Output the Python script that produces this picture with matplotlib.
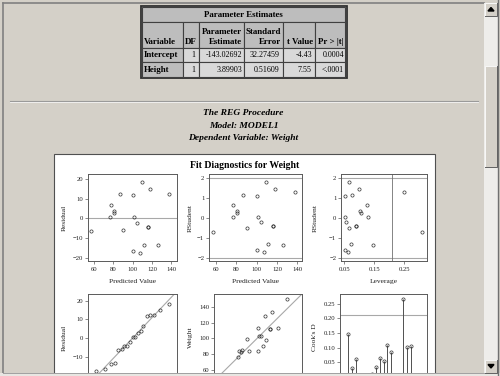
import matplotlib
matplotlib.use('Agg')
import matplotlib.pyplot as plt
from matplotlib.patches import Rectangle, Polygon
from matplotlib.ticker import FormatStrFormatter

SERIF = ['Liberation Serif', 'DejaVu Serif']
plt.rcParams['font.family'] = SERIF

# Parameter Estimates table
table_title = "Parameter Estimates"
param_vars = ["Intercept", "Height"]
param_df = ["1", "1"]
param_est = ["-143.02692", "3.89903"]
param_se = ["32.27459", "0.51609"]
param_t = ["-4.43", "7.55"]
param_p = ["0.0004", "<.0001"]

title_lines = ["The REG Procedure", "Model: MODEL1", "Dependent Variable: Weight"]
panel_title = "Fit Diagnostics for Weight"

# fit diagnostics, one value per observation
obs = list(range(1, 20))
predicted = [126.01, 77.27, 111.58, 101.83, 104.56, 80.39, 90.14, 100.66, 100.66, 87.02,
             56.99, 107.68, 76.49, 116.26, 137.70, 109.63, 118.21, 81.17, 116.26]
residual = [-13.51, 6.73, -13.58, 0.67, -2.06, 2.61, -5.63, 11.84, -16.66, 12.48,
            -6.49, -17.68, 0.51, -4.26, 12.30, 18.37, 14.79, 3.83, -4.26]
rstudent = [-1.33, 0.63, -1.28, 0.06, -0.18, 0.24, -0.51, 1.09, -1.59, 1.17,
            -0.69, -1.72, 0.05, -0.39, 1.29, 1.80, 1.43, 0.35, -0.39]
leverage = [0.1465, 0.1246, 0.0712, 0.0531, 0.0555, 0.1062, 0.0662, 0.0527, 0.0527, 0.0762,
            0.3101, 0.0608, 0.1297, 0.0893, 0.2499, 0.0655, 0.0986, 0.1021, 0.0893]
weight = [112.5, 84.0, 98.0, 102.5, 102.5, 83.0, 84.5, 112.5, 84.0, 99.5,
          50.5, 90.0, 77.0, 112.0, 150.0, 128.0, 133.0, 85.0, 112.0]
cooks_d = [0.1456, 0.0292, 0.0604, 0.0001, 0.0011, 0.0036, 0.0096, 0.0327, 0.0647, 0.0552,
           0.1089, 0.0855, 0.0002, 0.0078, 0.2666, 0.1004, 0.1053, 0.0074, 0.0078]
normal_quantile = [-1.846, -1.376, -1.097, -0.884, -0.705, -0.547, -0.401, -0.264, -0.131, 0.0,
                   0.131, 0.264, 0.401, 0.547, 0.705, 0.884, 1.097, 1.376, 1.846]
root_mse = 11.22625
rstudent_limit = 2
leverage_cut = 0.2105
cooks_cut = 0.2105

PAGE = '#D4D0C8'
W, H = 500, 376

fig = plt.figure(figsize=(5, 3.76), dpi=100)
fig.patch.set_facecolor(PAGE)

# pixel-space overlay for the page decorations
bg = fig.add_axes([0, 0, 1, 1], zorder=-5)
bg.set_xlim(0, W)
bg.set_ylim(H, 0)
bg.axis('off')

# window frame
bg.plot([2.5, 2.5], [2.5, H], color='#808080', lw=1.2)
bg.plot([2.5, 484], [2.5, 2.5], color='#808080', lw=1.2)

# table
col_edges = [142, 183, 198.5, 244, 283, 315, 345]
row_edges = [7, 22, 47.5, 62, 77]
HDR = '#BDBDBD'
CELL = '#D9D9D9'
bg.add_patch(Rectangle((141, 6), 206, 72, facecolor='#F0F0F0', edgecolor='#303030', lw=1.3))
bg.add_patch(Rectangle((col_edges[0], row_edges[0]), col_edges[-1] - col_edges[0],
                       row_edges[1] - row_edges[0], facecolor=HDR, edgecolor='#404040', lw=0.8))
bg.text(243.5, 15, table_title, ha='center', va='center', fontsize=6.4, weight='bold')
for i in range(6):
    bg.add_patch(Rectangle((col_edges[i], row_edges[1]), col_edges[i + 1] - col_edges[i],
                           row_edges[2] - row_edges[1], facecolor=HDR, edgecolor='#404040', lw=0.8))
    for r in range(2):
        fc = HDR if i == 0 else CELL
        bg.add_patch(Rectangle((col_edges[i], row_edges[2 + r]), col_edges[i + 1] - col_edges[i],
                               row_edges[3 + r] - row_edges[2 + r], facecolor=fc,
                               edgecolor='#404040', lw=0.8))
hdr_kw = dict(fontsize=6.4, weight='bold', va='center')
bg.text(144, 42, "Variable", ha='left', **hdr_kw)
bg.text(191, 42, "DF", ha='center', **hdr_kw)
bg.text(242, 31.5, "Parameter", ha='right', **hdr_kw)
bg.text(242, 42, "Estimate", ha='right', **hdr_kw)
bg.text(281, 31.5, "Standard", ha='right', **hdr_kw)
bg.text(281, 42, "Error", ha='right', **hdr_kw)
bg.text(313.5, 42, "t Value", ha='right', **hdr_kw)
bg.text(344, 42, "Pr > |t|", ha='right', **hdr_kw)
cols = [param_df, param_est, param_se, param_t, param_p]
rights = [195, 242, 280, 312, 344]
for r in range(2):
    yc = (row_edges[2 + r] + row_edges[3 + r]) / 2
    bg.text(144, yc, param_vars[r], ha='left', va='center', fontsize=6.4, weight='bold')
    for c, xr in zip(cols, rights):
        bg.text(xr, yc, c[r], ha='right', va='center', fontsize=5.8)

# separator
bg.plot([10, 478], [101, 101], color='#9A9A9A', lw=0.8)
bg.plot([10, 478], [102, 102], color='#F4F4F4', lw=0.6)

for yy, s in zip([113.3, 125.7, 137.7], title_lines):
    bg.text(243.5, yy, s, ha='center', va='center', fontsize=6.8, weight='bold', style='italic')

# graph panel
bg.add_patch(Rectangle((53.5, 154), 381, 240, facecolor='white', edgecolor='#505050', lw=0.8))
bg.text(245, 165.5, panel_title, ha='center', va='center', fontsize=7.0, weight='bold')


def add_ax(x0, y0, x1, y1):
    ax = fig.add_axes([x0 / W, 1 - y1 / H, (x1 - x0) / W, (y1 - y0) / H])
    for s in ax.spines.values():
        s.set_color('#5A5A5A')
        s.set_linewidth(0.7)
    ax.tick_params(length=2.2, width=0.5, color='#5A5A5A', labelsize=4.8, pad=1.2,
                   labelcolor='#202020')
    ax.tick_params(axis='x', pad=2.0)
    return ax


def label(ax, box, xlabel, ylabel, ylab_right):
    x0, y0, x1, y1 = box
    if xlabel:
        ax.set_xlabel(xlabel, fontsize=5.4, color='#202020')
        ax.xaxis.set_label_coords(0.5, (y1 - 279) / (y1 - y0))
    ax.set_ylabel(ylabel, fontsize=5.4, color='#202020')
    ax.yaxis.set_label_coords((ylab_right - x0) / (x1 - x0), 0.5)


pt = dict(ls='none', marker='o', ms=2.3, mfc='none', mec='#303030', mew=0.5)
ref = dict(color='#A8A8A8', lw=0.8, zorder=1)

# residual by predicted
b1 = (88, 174, 177, 261)
ax1 = add_ax(*b1)
ax1.axhline(0, **ref)
ax1.plot(predicted, residual, **pt)
ax1.set_xlim(53.8, 146)
ax1.set_ylim(-21.5, 22.5)
ax1.set_xticks([60, 80, 100, 120, 140])
ax1.set_yticks([-20, -10, 0, 10, 20])
label(ax1, b1, "Predicted Value", "Residual", 67)

# rstudent by predicted
b2 = (209, 174, 302, 261)
ax2 = add_ax(*b2)
ax2.axhline(rstudent_limit, **ref)
ax2.axhline(-rstudent_limit, **ref)
ax2.plot(predicted, rstudent, **pt)
ax2.set_xlim(53.4, 144.5)
ax2.set_ylim(-2.15, 2.2)
ax2.set_xticks([60, 80, 100, 120, 140])
ax2.set_yticks([-2, -1, 0, 1, 2])
label(ax2, b2, "Predicted Value", "RStudent", 193)

# rstudent by leverage
b3 = (341, 174, 427, 261)
ax3 = add_ax(*b3)
ax3.axhline(rstudent_limit, **ref)
ax3.axhline(-rstudent_limit, **ref)
ax3.axvline(leverage_cut, color='#707070', lw=0.6, zorder=1)
ax3.plot(leverage, rstudent, **pt)
ax3.set_xlim(0.039, 0.326)
ax3.set_ylim(-2.15, 2.2)
ax3.set_xticks([0.05, 0.15, 0.25])
ax3.xaxis.set_major_formatter(FormatStrFormatter('%.2f'))
ax3.set_yticks([-2, -1, 0, 1, 2])
label(ax3, b3, "Leverage", "RStudent", 318)

# Q-Q plot of residuals (x axis lies below the visible window)
b4 = (88, 294, 177, 381)
ax4 = add_ax(*b4)
ax4.axline((0, 0), slope=root_mse, **ref)
ax4.plot(normal_quantile, sorted(residual), **pt)
ax4.set_xlim(-2.23, 2.23)
ax4.set_ylim(-22.9, 23.6)
ax4.set_xticks([-2, -1, 0, 1, 2])
ax4.set_yticks([-20, -10, 0, 10, 20])
label(ax4, b4, None, "Residual", 67)

# observed by predicted
b5 = (214, 294, 302, 381)
ax5 = add_ax(*b5)
ax5.axline((60, 60), slope=1, **ref)
ax5.plot(predicted, weight, **pt)
ax5.set_xlim(46.0, 156.1)
ax5.set_ylim(46.0, 156.1)
ax5.set_xticks([60, 80, 100, 120, 140])
ax5.set_yticks([60, 80, 100, 120, 140])
label(ax5, b5, None, "Weight", 193)

# Cook's D
b6 = (340, 294, 427, 381)
ax6 = add_ax(*b6)
ax6.axhline(cooks_cut, **ref)
ax6.vlines(obs, 0, cooks_d, color='#505050', lw=0.7, zorder=2)
ax6.plot(obs, cooks_d, **pt)
ax6.set_xlim(-1, 21)
ax6.set_ylim(-0.014, 0.283)
ax6.set_xticks([5, 10, 15, 20])
ax6.set_yticks([0.05, 0.10, 0.15, 0.20, 0.25])
ax6.yaxis.set_major_formatter(FormatStrFormatter('%.2f'))
label(ax6, b6, None, "Cook's D", 317.5)

# bottom row is scrolled out of view below the tick marks
for ax in (ax4, ax5, ax6):
    ax.tick_params(axis='x', labelbottom=False)

# browser chrome on top
fg = fig.add_axes([0, 0, 1, 1], zorder=10)
fg.set_xlim(0, W)
fg.set_ylim(H, 0)
fg.axis('off')
fg.add_patch(Rectangle((0, 373), W, 3, facecolor='#E8E6E2', edgecolor='none'))
fg.plot([2.5, 484], [373, 373], color='#A0A0A0', lw=0.7)
fg.add_patch(Rectangle((484, 3), 13.5, 370, facecolor='#EEEDEA', edgecolor='none'))
fg.plot([498.2, 498.2], [0, H], color='#707070', lw=1.0)
for (y0, y1) in [(3, 15.5), (66, 167), (360, 373)]:
    fg.add_patch(Rectangle((484.5, y0), 12.5, y1 - y0, facecolor=PAGE, edgecolor='none'))
    fg.plot([484.5, 484.5, 497], [y1, y0, y0], color='white', lw=0.6)
    fg.plot([484.5, 497, 497], [y1, y1, y0], color='#606060', lw=0.7)
fg.add_patch(Polygon([(488, 11), (494, 11), (491, 7.5)], closed=True, color='black'))
fg.add_patch(Polygon([(488, 364.5), (494, 364.5), (491, 368)], closed=True, color='black'))

fig.savefig('out.png', dpi=100, facecolor=fig.get_facecolor())
